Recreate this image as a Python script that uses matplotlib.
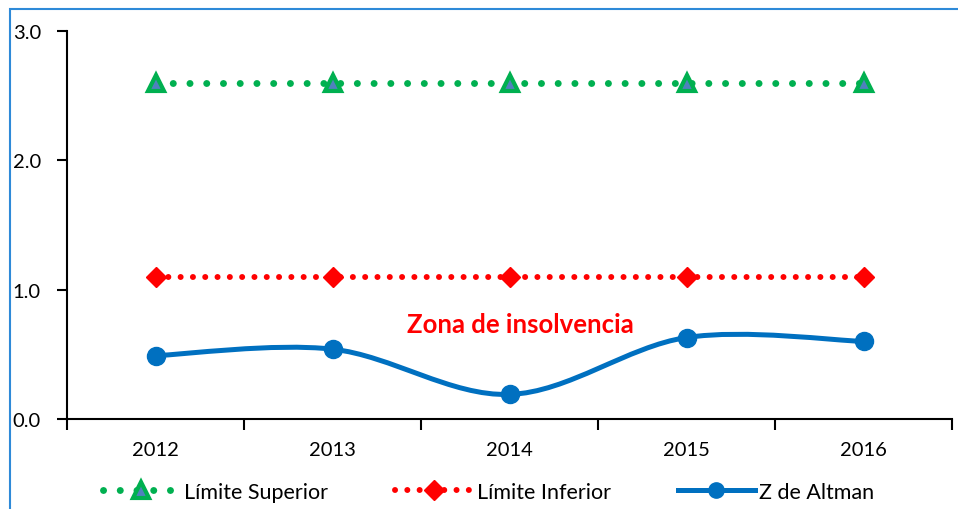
import matplotlib
matplotlib.use("Agg")
import matplotlib.pyplot as plt
from matplotlib.path import Path
from matplotlib.patches import PathPatch, Rectangle
from matplotlib.lines import Line2D

plt.rcParams['font.family'] = ['Lato', 'DejaVu Sans']

# Datos
anios = ["2012", "2013", "2014", "2015", "2016"]
limite_superior = [2.6, 2.6, 2.6, 2.6, 2.6]
limite_inferior = [1.1, 1.1, 1.1, 1.1, 1.1]
z_altman = [0.49, 0.54, 0.19, 0.63, 0.60]

VERDE = "#00b050"
ROJO = "#ff0000"
AZUL = "#0070c0"


def curva_suave(xs, ys):
    # Curva Bezier estilo Excel (control = vecinos / 6)
    verts = [(xs[0], ys[0])]
    codes = [Path.MOVETO]
    n = len(xs)
    for i in range(n - 1):
        x0, y0 = (xs[i - 1], ys[i - 1]) if i > 0 else (xs[i], ys[i])
        x3, y3 = (xs[i + 2], ys[i + 2]) if i + 2 < n else (xs[i + 1], ys[i + 1])
        c1 = (xs[i] + (xs[i + 1] - x0) / 6, ys[i] + (ys[i + 1] - y0) / 6)
        c2 = (xs[i + 1] - (x3 - xs[i]) / 6, ys[i + 1] - (y3 - ys[i]) / 6)
        verts += [c1, c2, (xs[i + 1], ys[i + 1])]
        codes += [Path.CURVE4] * 3
    return Path(verts, codes)


estilo_sup = dict(color=VERDE, linewidth=5, linestyle=(0, (0.01, 2.4)),
                  dash_capstyle='round', marker='^', markersize=12,
                  markeredgewidth=3, markeredgecolor=VERDE,
                  markerfacecolor="#4f81bd")
estilo_inf = dict(color=ROJO, linewidth=4.3, linestyle=(0, (0.01, 2.05)),
                  dash_capstyle='round', marker='D', markersize=10.5,
                  markeredgewidth=1, markeredgecolor=ROJO, markerfacecolor=ROJO)

fig = plt.figure(figsize=(9.58, 5.10), dpi=100)
ax = fig.add_axes([67 / 958, 1 - 420 / 510, (952 - 67) / 958, (420 - 32) / 510])

x = list(range(len(anios)))

ax.plot(x, limite_superior, zorder=3, **estilo_sup)
ax.plot(x, limite_inferior, zorder=3, **estilo_inf)

ax.add_patch(PathPatch(curva_suave(x, z_altman), fill=False, edgecolor=AZUL,
                       linewidth=3.6, capstyle='round', zorder=3))
ax.plot(x, z_altman, linestyle='none', marker='o', markersize=13,
        color=AZUL, zorder=4)

ax.text(2.06, 0.735, "Zona de insolvencia", color=ROJO, fontsize=18.5,
        fontweight='bold', ha='center', va='center')

ax.set_xlim(-0.5, len(anios) - 0.5)
ax.set_ylim(0, 3)
ax.set_yticks([0, 1, 2, 3])
ax.set_yticklabels(["0.0", "1.0", "2.0", "3.0"])
ax.set_xticks(x)
ax.set_xticklabels(anios)
ax.set_xticks([i - 0.5 for i in range(len(anios) + 1)], minor=True)
ax.tick_params(axis='x', which='major', length=0, labelsize=14.5, pad=16)
ax.tick_params(axis='x', which='minor', length=8, width=1.5, direction='out')
ax.tick_params(axis='y', length=7, width=1.5, labelsize=14.5, pad=32)
for lbl in ax.get_yticklabels():
    lbl.set_horizontalalignment('left')
ax.spines['top'].set_visible(False)
ax.spines['right'].set_visible(False)
ax.spines['left'].set_linewidth(1.5)
ax.spines['bottom'].set_linewidth(1.5)

handles = [
    Line2D([], [], **estilo_sup),
    Line2D([], [], **estilo_inf),
    Line2D([], [], color=AZUL, linewidth=3.6, marker='o', markersize=11),
]
fig.legend(handles, ["Límite Superior", "Límite Inferior", "Z de Altman"],
           loc='center', bbox_to_anchor=(0.51, 1 - 493 / 510), ncol=3,
           frameon=False, fontsize=15.5, handlelength=3.6, columnspacing=3.1,
           handletextpad=0.2)

# Borde del grafico
fig.patches.append(Rectangle((10 / 958, -0.1), 2, 1 - 10 / 510 + 0.1,
                             transform=fig.transFigure, fill=False,
                             edgecolor="#2e8ad8", linewidth=1.5))

fig.savefig("out.png", dpi=100)
